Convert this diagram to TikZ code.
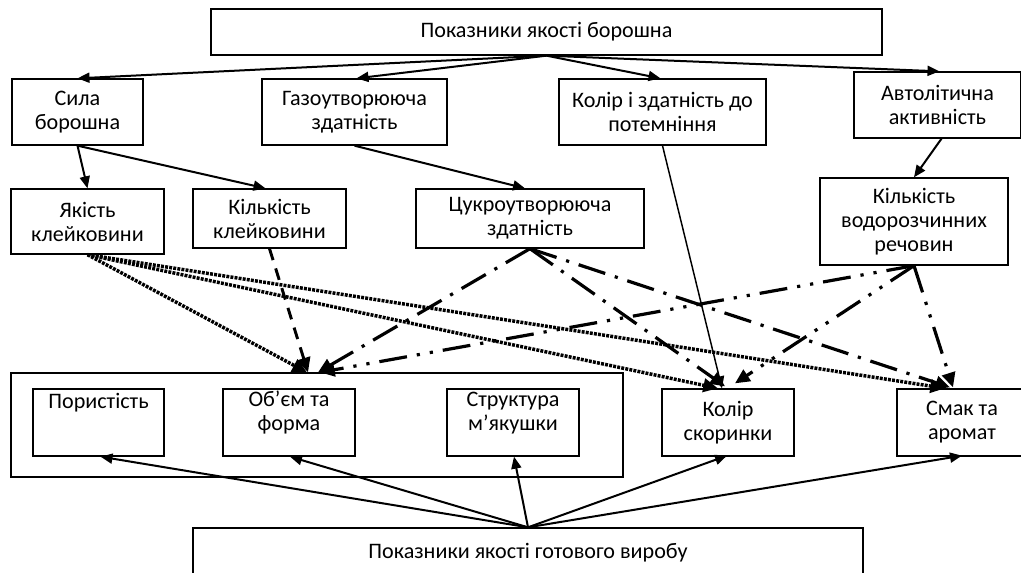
\documentclass[tikz,border=0pt]{standalone}
\usepackage{fontspec}
\setmainfont{Carlito}
\usetikzlibrary{arrows.meta,calc}
\newcommand\dfont{\fontsize{16.6}{18}\selectfont}
\begin{document}
\begin{tikzpicture}[x=0.75pt,y=-0.75pt,
  box/.style={draw, line width=1pt, align=center, inner sep=0pt, font=\dfont},
  txt/.style={align=center, inner sep=0pt, font=\dfont},
  sarr/.style={line width=1.5pt, -{Triangle[length=9pt,width=7.5pt]}},
  tarr/.style={line width=1.1pt, -{Triangle[length=9pt,width=7.5pt]}},
  dotarr/.style={line width=2.6pt, line cap=butt, dash pattern=on 2.2pt off 0.9pt, -{Triangle[length=11pt,width=10pt]}},
  dasharr/.style={line width=2.2pt, dash pattern=on 9pt off 6.5pt, -{Triangle[length=11pt,width=10pt]}},
  dasharrdot/.style={line width=2.4pt, dash pattern=on 21pt off 7.5pt on 2.4pt off 7.5pt, -{Triangle[length=11pt,width=10pt]}},
  dasharrdd/.style={line width=2.4pt, dash pattern=on 21pt off 7.5pt on 2.4pt off 7.5pt on 2.4pt off 7.5pt, -{Triangle[length=11pt,width=10pt]}}
]
\useasboundingbox (0,0) rectangle (1021,573);
\fill[white] (0,0) rectangle (1021,573);
\clip (0,0) rectangle (1021,573);

% top level
\node[box, minimum width=671*0.75pt, minimum height=46*0.75pt] (top) at (546.5,32) {Показники якості борошна};
\node[box, minimum width=131*0.75pt, minimum height=66*0.75pt] (sila) at (77.5,112) {Сила\\борошна};
\node[box, minimum width=185*0.75pt, minimum height=66*0.75pt] (gazo) at (354.5,112) {Газоутворююча\\здатність};
\node[box, minimum width=207*0.75pt, minimum height=66*0.75pt] (kolir) at (662.5,112) {Колір і здатність до\\потемніння};
\node[box, minimum width=167*0.75pt, minimum height=66*0.75pt] (avto) at (937.5,105) {Автолітична\\активність};

% second level
\node[box, minimum width=153*0.75pt, minimum height=65*0.75pt] (jakist) at (87.5,221.5) {Якість\\клейковини};
\node[box, minimum width=153*0.75pt, minimum height=59*0.75pt] (kilk) at (269.5,218.5) {Кількість\\клейковини};
\node[box, minimum width=228*0.75pt, minimum height=59*0.75pt] (cukro) at (530,218.5) {Цукроутворююча\\здатність};
\node[box, minimum width=188*0.75pt, minimum height=87*0.75pt] (vodo) at (914,221.5) {Кількість\\водорозчинних\\речовин};

% product level
\node[box, minimum width=612*0.75pt, minimum height=104*0.75pt] (cont) at (317,425) {};
\node[box, minimum width=131*0.75pt, minimum height=67*0.75pt] (por) at (98.5,422.5) {};
\node[txt] (port) at (98.5,403) {Пористість};
\node[box, minimum width=132*0.75pt, minimum height=67*0.75pt] (obem) at (289,422.5) {};
\node[txt] (obemt) at (289,413) {Об’єм та\\форма};
\node[box, minimum width=132*0.75pt, minimum height=67*0.75pt] (strukt) at (513,422.5) {};
\node[txt] (struktt) at (513,413) {Структура\\м’якушки};
\node[box, minimum width=132*0.75pt, minimum height=67*0.75pt] (kolsk) at (728,422.5) {Колір\\скоринки};
\node[box, minimum width=130*0.75pt, minimum height=67*0.75pt] (smak) at (962,422.5) {Смак та\\аромат};

\node[box, minimum width=670*0.75pt, minimum height=52*0.75pt] (bot) at (528,554) {};
\node[txt] (bott) at (528,553) {Показники якості готового виробу};

% solid arrows from top
\draw[sarr] (top.south) -- (sila.north);
\draw[sarr] (top.south) -- ($(gazo.north)+(2,0)$);
\draw[sarr] (top.south) -- ($(kolir.north)+(-2,0)$);
\draw[sarr] (top.south) -- ($(avto.north)+(2,0)$);
\draw[sarr] (sila.south) -- (jakist.north);
\draw[sarr] (sila.south) -- ($(kilk.north)+(-4,0)$);
\draw[sarr] (gazo.south) -- ($(cukro.north)+(-5,0)$);
\draw[sarr] ($(avto.south)+(4,0)$) -- (vodo.north);
\draw[tarr] (kolir.south) -- ($(kolsk.north)+(-6,0)$);

% dotted from jakist
\draw[dotarr] (jakist.south) -- ($(cont.north)+(-10,0)$);
\draw[dotarr] (jakist.south) -- ($(kolsk.north)+(-10,0)$);
\draw[dotarr] (jakist.south) -- ($(smak.north)+(-17,0)$);
% dashed from kilk
\draw[dasharr] (kilk.south) -- ($(cont.north)+(-9,0)$);
% dash-dot from cukro
\draw[dasharrdot] (cukro.south) -- ($(cont.north)+(1,0)$);
\draw[dasharrdot] (cukro.south) -- ($(kolsk.north)+(-3,-2)$);
\draw[dasharrdot] (cukro.south) -- ($(smak.north)+(-12,-1)$);
% dash-dot-dot from vodo
\draw[dasharrdd] (vodo.south) -- ($(cont.north)+(3,0)$);
\draw[dasharrdd] (vodo.south) -- ($(kolsk.north)+(7,-5)$);
\draw[dasharrdd] (vodo.south) -- ($(smak.north)+(-9,-1)$);

% from bottom box
\draw[sarr] (bot.north) -- ($(por.south)+(2,0)$);
\draw[sarr] (bot.north) -- ($(obem.south)+(1,0)$);
\draw[sarr] (bot.north) -- ($(strukt.south)+(1,0)$);
\draw[sarr] (bot.north) -- ($(kolsk.south)+(-1,-1)$);
\draw[sarr] (bot.north) -- ($(smak.south)+(0,-1)$);
\end{tikzpicture}
\end{document}
